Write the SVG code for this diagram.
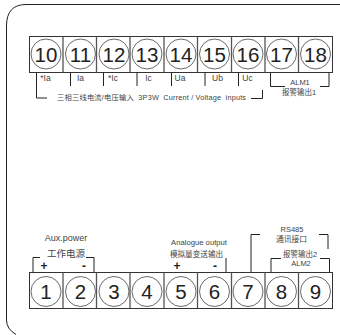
<svg xmlns="http://www.w3.org/2000/svg" width="340" height="335" viewBox="0 0 340 335">
<style>
.f{fill:none;stroke:#222;stroke-width:1}
.b{fill:#fff;stroke:#333;stroke-width:1}
.d{fill:none;stroke:#555;stroke-width:1.300}
.c{fill:#fff;stroke:#444;stroke-width:.8}
.n{font:20.500px "Liberation Sans",sans-serif;fill:#222;text-anchor:middle}
.s{font:8px "Liberation Sans","Noto Sans CJK SC",sans-serif;fill:#444;text-anchor:middle}
.p{font:bold 12px "Liberation Sans",sans-serif;fill:#222;text-anchor:middle}
</style>
<path id="frame" class="f" d="M16 334.500Q6.500 329 6.500 320V26Q6.500 4.500 26 4.500H340"/>
<g id="top-block"><rect class="b" x="29.500" y="36.500" width="303" height="36"/><path class="d" d="M63 36.500V72.500M96.500 36.500V72.500M130 36.500V72.500M164 36.500V72.500M197.500 36.500V72.500M231.500 36.500V72.500M265 36.500V72.500M298.500 36.500V72.500"/></g>
<g id="bottom-block"><rect class="b" x="29.500" y="272.500" width="303" height="36"/><path class="d" d="M63 272.500V308.500M96.500 272.500V308.500M130 272.500V308.500M164 272.500V308.500M197.500 272.500V308.500M231.500 272.500V308.500M265 272.500V308.500M298.500 272.500V308.500"/></g>
<g id="n10"><circle class="c" cx="46" cy="54" r="15"/><text class="n" x="46" y="62">10</text></g>
<g id="n11"><circle class="c" cx="80.500" cy="54" r="15"/><text class="n" x="80.500" y="62">11</text></g>
<g id="n12"><circle class="c" cx="114" cy="54" r="15"/><text class="n" x="114" y="62">12</text></g>
<g id="n13"><circle class="c" cx="147" cy="54" r="15"/><text class="n" x="147" y="62">13</text></g>
<g id="n14"><circle class="c" cx="181" cy="54" r="15"/><text class="n" x="181" y="62">14</text></g>
<g id="n15"><circle class="c" cx="214.500" cy="54" r="15"/><text class="n" x="214.500" y="62">15</text></g>
<g id="n16"><circle class="c" cx="248" cy="54" r="15"/><text class="n" x="248" y="62">16</text></g>
<g id="n17"><circle class="c" cx="281.500" cy="54" r="15"/><text class="n" x="281.500" y="62">17</text></g>
<g id="n18"><circle class="c" cx="315.500" cy="54" r="15"/><text class="n" x="315.500" y="62">18</text></g>
<g id="n1"><circle class="c" cx="46" cy="291.500" r="15"/><text class="n" x="46" y="298.500">1</text></g>
<g id="n2"><circle class="c" cx="80.500" cy="291.500" r="15"/><text class="n" x="80.500" y="298.500">2</text></g>
<g id="n3"><circle class="c" cx="114" cy="291.500" r="15"/><text class="n" x="114" y="298.500">3</text></g>
<g id="n4"><circle class="c" cx="147" cy="291.500" r="15"/><text class="n" x="147" y="298.500">4</text></g>
<g id="n5"><circle class="c" cx="181" cy="291.500" r="15"/><text class="n" x="181" y="298.500">5</text></g>
<g id="n6"><circle class="c" cx="214.500" cy="291.500" r="15"/><text class="n" x="214.500" y="298.500">6</text></g>
<g id="n7"><circle class="c" cx="248" cy="291.500" r="15"/><text class="n" x="248" y="298.500">7</text></g>
<g id="n8"><circle class="c" cx="281.500" cy="291.500" r="15"/><text class="n" x="281.500" y="298.500">8</text></g>
<g id="n9"><circle class="c" cx="315.500" cy="291.500" r="15"/><text class="n" x="315.500" y="298.500">9</text></g>
<g id="connectors">
<path class="f" d="M36.500 72.500V98H47M70.500 72.500V86M103.500 72.500V86M137 72.500V86M171.500 72.500V86M205 72.500V86M238.500 72.500V86M251 98.500H262.500V90"/>
<path class="f" d="M270.500 73V86.500H285M320 86.500H329V73"/>
<path class="f" d="M33 272V257.500H40M86 257.500H94V272"/>
<path class="f" d="M226 272V258"/>
<path class="f" d="M251 272V234.500H260M319 234.500H328V249"/>
<path class="f" d="M271 272V258.500H281M320 258.500H329.500V272"/>
</g>
<g id="labels">
<text class="s" x="45.500" y="81" style="font-size:8.500px">*Ia</text><text class="s" x="80.500" y="81" style="font-size:8.500px">Ia</text><text class="s" x="113" y="81" style="font-size:8.500px">*Ic</text><text class="s" x="148.500" y="81" style="font-size:8.500px">Ic</text>
<text class="s" x="180" y="81" style="font-size:8.500px">Ua</text><text class="s" x="217.500" y="81" style="font-size:8.500px">Ub</text><text class="s" x="247.500" y="81" style="font-size:8.500px">Uc</text>
<text class="s" x="151.500" y="100" textLength="189" style="font-size:7.300px;white-space:pre">三相三线电流/电压输入  3P3W  Current / Voltage  inputs</text>
<text class="s" x="300" y="85" style="font-size:7.500px">ALM1</text><text class="s" x="299" y="95" style="font-size:7.500px">报警输出1</text>
<text class="s" x="66" y="241" style="font-size:9px">Aux.power</text><text class="s" x="66" y="257" style="font-size:9.500px">工作电源</text>
<text class="p" x="44" y="270">+</text><text class="p" x="84" y="270">-</text>
<text class="s" x="199" y="245" style="font-size:7.700px">Analogue output</text><text class="s" x="196.500" y="257" style="font-size:7.600px">模拟量变送输出</text>
<text class="p" x="177" y="270">+</text><text class="p" x="215" y="270">-</text>
<text class="s" x="292" y="232" style="font-size:7.500px">RS485</text><text class="s" x="291.500" y="242" style="font-size:7.800px">通讯接口</text>
<text class="s" x="300" y="257" style="font-size:7.500px">报警输出2</text><text class="s" x="301" y="266" style="font-size:7.500px">ALM2</text>
</g>
</svg>
